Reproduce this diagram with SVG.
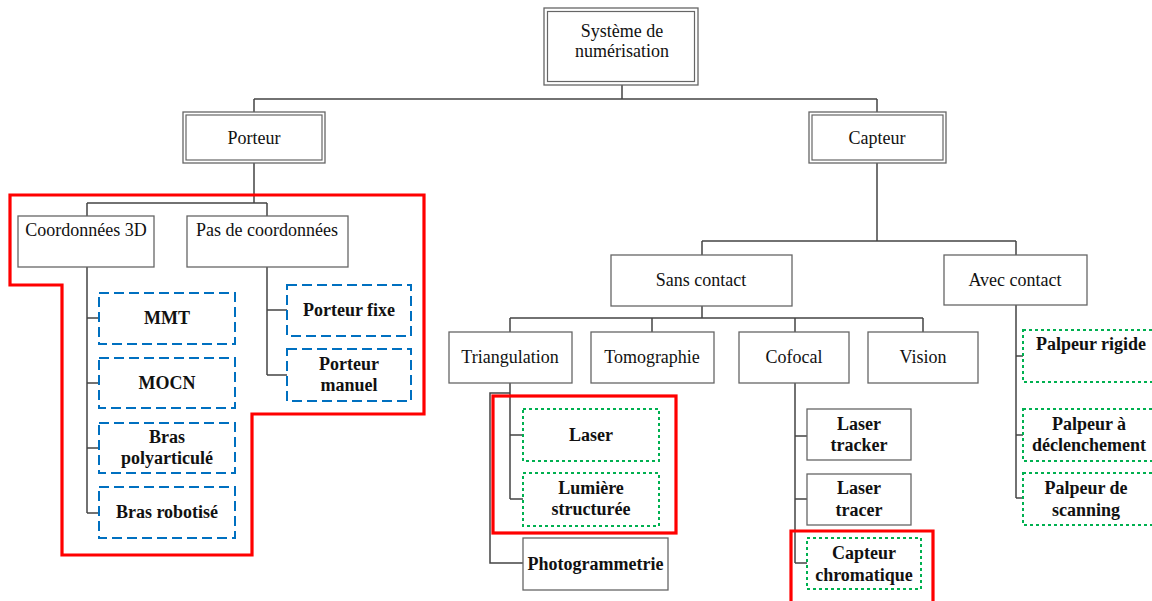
<svg xmlns="http://www.w3.org/2000/svg" width="1152" height="601" viewBox="0 0 1152 601">
<style>
  .box{fill:#fff;stroke:#666;stroke-width:1.3}
  .dbl{fill:none;stroke:#666;stroke-width:1.2}
  .blue{fill:#fff;stroke:#0070C0;stroke-width:2;stroke-dasharray:10 5}
  .green{fill:#fff;stroke:#00B050;stroke-width:2;stroke-dasharray:3 3}
  .red{fill:none;stroke:#FF0000;stroke-width:3.2}
  .con{fill:none;stroke:#444;stroke-width:1.5}
  .t{font-family:"Liberation Serif","Times New Roman",serif;font-size:18px;fill:#111;text-anchor:middle}
  .b{font-weight:bold}
</style>
<rect width="1152" height="601" fill="#fff"/>
<g id="connectors">
  <path class="con" d="M622,85 V99 M254,99 H877 M254,99 V112 M877,99 V112"/>
  <path class="con" d="M254,163 V203 M87,203 H267 M87,203 V216 M267,203 V216"/>
  <path class="con" d="M87,267 V513 M87,318 H99 M87,383 H99 M87,448 H99 M87,513 H99"/>
  <path class="con" d="M267,267 V375 M267,310 H287 M267,375 H287"/>
  <path class="con" d="M877,163 V241 M702,241 H1016 M702,241 V255 M1016,241 V255"/>
  <path class="con" d="M702,306 V318 M510,318 H923 M510,318 V332 M652,318 V332 M795,318 V332 M923,318 V332"/>
  <path class="con" d="M510,383 V499 M510,435 H523 M510,499 H523 M510,393 H490 V563 H523"/>
  <path class="con" d="M795,383 V563 M795,436 H807 M795,499 H807 M795,563 H807"/>
  <path class="con" d="M1016,305 V498 M1016,356 H1023 M1016,435 H1023 M1016,498 H1023"/>
</g>
<g id="highlights">
  <path class="red" d="M10,195 H424 V414 H252 V555 H62 V285 H10 Z"/>
  <rect class="red" x="493" y="396" width="183" height="137"/>
  <path class="red" d="M791,605 V531 H933 V605"/>
</g>
<g id="n-systeme">
  <rect class="box" x="544" y="8" width="154" height="77"/>
  <rect class="dbl" x="547.5" y="11.5" width="147" height="70"/>
  <text class="t" x="622" y="37">Système de</text>
  <text class="t" x="622" y="57">numérisation</text>
</g>
<g id="n-porteur">
  <rect class="box" x="183" y="112" width="142" height="51"/>
  <rect class="dbl" x="186" y="115" width="136" height="45"/>
  <text class="t" x="254" y="144">Porteur</text>
</g>
<g id="n-capteur">
  <rect class="box" x="809" y="112" width="137" height="51"/>
  <rect class="dbl" x="812" y="115" width="131" height="45"/>
  <text class="t" x="877" y="144">Capteur</text>
</g>
<g id="n-coord3d">
  <rect class="box" x="18" y="216" width="136" height="51"/>
  <text class="t" x="86" y="236">Coordonnées 3D</text>
</g>
<g id="n-pascoord">
  <rect class="box" x="187" y="216" width="161" height="51"/>
  <text class="t" x="267" y="236">Pas de coordonnées</text>
</g>
<g id="n-mmt">
  <rect class="blue" x="99" y="293" width="136" height="51"/>
  <text class="t b" x="167" y="324">MMT</text>
</g>
<g id="n-mocn">
  <rect class="blue" x="99" y="358" width="136" height="50"/>
  <text class="t b" x="167" y="389">MOCN</text>
</g>
<g id="n-braspoly">
  <rect class="blue" x="99" y="423" width="136" height="50"/>
  <text class="t b" x="167" y="443">Bras</text>
  <text class="t b" x="167" y="464">polyarticulé</text>
</g>
<g id="n-brasrobot">
  <rect class="blue" x="99" y="487" width="136" height="51"/>
  <text class="t b" x="167" y="518">Bras robotisé</text>
</g>
<g id="n-porteurfixe">
  <rect class="blue" x="287" y="285" width="124" height="51"/>
  <text class="t b" x="349" y="316">Porteur fixe</text>
</g>
<g id="n-porteurmanuel">
  <rect class="blue" x="287" y="349" width="124" height="52"/>
  <text class="t b" x="349" y="370">Porteur</text>
  <text class="t b" x="349" y="391">manuel</text>
</g>
<g id="n-sanscontact">
  <rect class="box" x="611" y="255" width="181" height="51"/>
  <text class="t" x="701" y="286">Sans contact</text>
</g>
<g id="n-aveccontact">
  <rect class="box" x="944" y="255" width="143" height="50"/>
  <text class="t" x="1015" y="286">Avec contact</text>
</g>
<g id="n-triangulation">
  <rect class="box" x="449" y="332" width="123" height="51"/>
  <text class="t" x="510" y="363">Triangulation</text>
</g>
<g id="n-tomographie">
  <rect class="box" x="591" y="332" width="123" height="51"/>
  <text class="t" x="652" y="363">Tomographie</text>
</g>
<g id="n-cofocal">
  <rect class="box" x="739" y="332" width="110" height="51"/>
  <text class="t" x="794" y="363">Cofocal</text>
</g>
<g id="n-vision">
  <rect class="box" x="868" y="332" width="110" height="51"/>
  <text class="t" x="923" y="363">Vision</text>
</g>
<g id="n-laser">
  <rect class="green" x="523" y="409" width="136" height="52"/>
  <text class="t b" x="591" y="441">Laser</text>
</g>
<g id="n-lumiere">
  <rect class="green" x="523" y="473" width="136" height="53"/>
  <text class="t b" x="591" y="494">Lumière</text>
  <text class="t b" x="591" y="515">structurée</text>
</g>
<g id="n-photogrammetrie">
  <rect class="box" x="523" y="538" width="145" height="52"/>
  <text class="t b" x="595.5" y="570">Photogrammetrie</text>
</g>
<g id="n-lasertracker">
  <rect class="box" x="807" y="409" width="104" height="51"/>
  <text class="t b" x="859" y="430">Laser</text>
  <text class="t b" x="859" y="451">tracker</text>
</g>
<g id="n-lasertracer">
  <rect class="box" x="807" y="474" width="104" height="51"/>
  <text class="t b" x="859" y="494">Laser</text>
  <text class="t b" x="859" y="516">tracer</text>
</g>
<g id="n-capteurchrom">
  <rect class="green" x="807" y="538" width="114" height="51"/>
  <text class="t b" x="864" y="559">Capteur</text>
  <text class="t b" x="864" y="581">chromatique</text>
</g>
<g id="n-palpeurrigide">
  <rect class="green" x="1023" y="330" width="135" height="52"/>
  <text class="t b" x="1091" y="350">Palpeur rigide</text>
</g>
<g id="n-palpeurdecl">
  <rect class="green" x="1023" y="409" width="135" height="52"/>
  <text class="t b" x="1089" y="430">Palpeur à</text>
  <text class="t b" x="1089" y="451">déclenchement</text>
</g>
<g id="n-palpeurscan">
  <rect class="green" x="1023" y="473" width="135" height="52"/>
  <text class="t b" x="1086" y="494">Palpeur de</text>
  <text class="t b" x="1086" y="516">scanning</text>
</g>
</svg>
